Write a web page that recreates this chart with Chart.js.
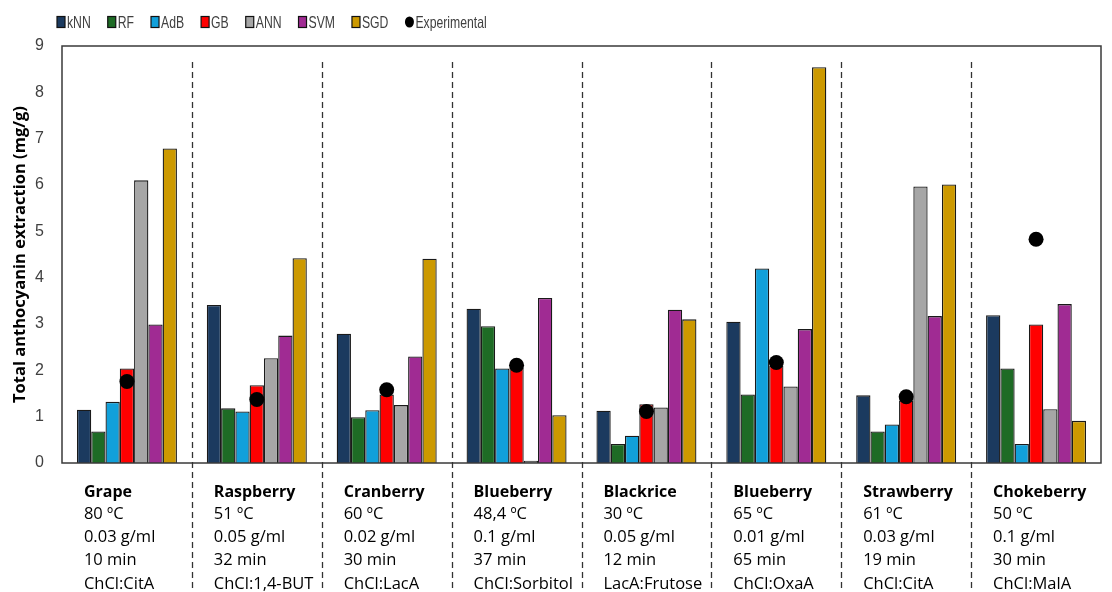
<!DOCTYPE html>
<html>
<head>
<meta charset="utf-8">
<script src="https://cdn.jsdelivr.net/npm/chart.js@4.4.1/dist/chart.umd.min.js"></script>
<style>
  html, body { margin: 0; padding: 0; background: #fff; }
  #wrap { width: 1112px; height: 592px; position: relative; }
</style>
</head>
<body>
<div id="wrap"><canvas id="c"></canvas></div>
<script>
// Matrices, with the extraction conditions printed under each group
const categories = ['Grape', 'Raspberry', 'Cranberry', 'Blueberry', 'Blackrice', 'Blueberry', 'Strawberry', 'Chokeberry'];
const conditions = [
  ['80 ºC', '0.03 g/ml', '10 min', 'ChCl:CitA'],
  ['51 ºC', '0.05 g/ml', '32 min', 'ChCl:1,4-BUT'],
  ['60 ºC', '0.02 g/ml', '30 min', 'ChCl:LacA'],
  ['48,4 ºC', '0.1 g/ml', '37 min', 'ChCl:Sorbitol'],
  ['30 ºC', '0.05 g/ml', '12 min', 'LacA:Frutose'],
  ['65 ºC', '0.01 g/ml', '65 min', 'ChCl:OxaA'],
  ['61 ºC', '0.03 g/ml', '19 min', 'ChCl:CitA'],
  ['50 ºC', '0.1 g/ml', '30 min', 'ChCl:MalA']
];

// Predicted total anthocyanin extraction (mg/g) per model
const kNN = [1.15, 3.41, 2.79, 3.33, 1.13, 3.05, 1.46, 3.19];
const RF  = [0.68, 1.18, 0.99, 2.95, 0.41, 1.48, 0.68, 2.04];
const AdB = [1.32, 1.11, 1.14, 2.04, 0.59, 4.20, 0.83, 0.41];
const GB  = [2.04, 1.68, 1.48, 2.05, 1.27, 2.10, 1.35, 2.99];
const ANN = [6.10, 2.26, 1.25, 0.05, 1.20, 1.65, 5.97, 1.16];
const SVM = [2.99, 2.75, 2.30, 3.56, 3.31, 2.89, 3.17, 3.43];
const SGD = [6.79, 4.42, 4.41, 1.03, 3.10, 8.54, 6.01, 0.91];
// Measured values
const experimental = [1.76, 1.37, 1.58, 2.11, 1.11, 2.17, 1.43, 4.83];

const yTicks = [0, 1, 2, 3, 4, 5, 6, 7, 8, 9];

const FONT = '"Open Sans", "Liberation Sans", sans-serif';
const KEY_FONT = '16.5px "Liberation Sans", Arial, sans-serif';
const KEY_SQUEEZE = 0.74;   // condensed look for the key labels

const barBorder = '#1a1a1a';
function barSet(label, data, color) {
  return {
    type: 'bar', label, data,
    backgroundColor: color, borderColor: barBorder, borderWidth: 1.3,
    categoryPercentage: 0.77, barPercentage: 1.0, order: 1
  };
}

// Boxed plot frame
const framePlugin = {
  id: 'frame',
  afterDatasetsDraw(chart) {
    const { ctx, chartArea: a } = chart;
    ctx.save();
    ctx.strokeStyle = '#3a3a3a';
    ctx.lineWidth = 1.5;
    ctx.strokeRect(a.left, a.top, a.right - a.left, a.bottom - a.top);
    ctx.restore();
  }
};

// Dashed dividers between matrix groups, running down through the condition text
const dividerPlugin = {
  id: 'dividers',
  afterDraw(chart) {
    const { ctx, chartArea: a } = chart;
    const xs = chart.scales.x;
    ctx.save();
    ctx.strokeStyle = '#333';
    ctx.lineWidth = 1.3;
    ctx.setLineDash([6, 4]);
    for (let i = 0; i < categories.length - 1; i++) {
      const px = Math.round((xs.getPixelForValue(i) + xs.getPixelForValue(i + 1)) / 2) + 0.5;
      ctx.beginPath();
      ctx.moveTo(px, a.top + 16);
      ctx.lineTo(px, chart.height);
      ctx.stroke();
    }
    ctx.restore();
  }
};

// Series key along the top-left
const keyPlugin = {
  id: 'seriesKey',
  afterDraw(chart) {
    const ctx = chart.ctx;
    ctx.save();
    ctx.font = KEY_FONT;
    ctx.textBaseline = 'middle';
    ctx.textAlign = 'left';
    let x = 57;
    const y = 22;
    chart.data.datasets.forEach(ds => {
      if (ds.type === 'bar') {
        ctx.fillStyle = ds.backgroundColor;
        ctx.fillRect(x, y - 5.5, 8, 11);
        ctx.strokeStyle = '#111';
        ctx.lineWidth = 1.2;
        ctx.strokeRect(x, y - 5.5, 8, 11);
      } else {
        ctx.fillStyle = '#000';
        ctx.beginPath();
        ctx.ellipse(x + 4, y, 4.5, 5.5, 0, 0, Math.PI * 2);
        ctx.fill();
      }
      x += 10;
      ctx.fillStyle = '#404040';
      ctx.save();
      ctx.translate(x, y + 1);
      ctx.scale(KEY_SQUEEZE, 1);
      ctx.fillText(ds.label, 0, 0);
      ctx.restore();
      x += ctx.measureText(ds.label).width * KEY_SQUEEZE + 17;
    });
    ctx.restore();
  }
};

new Chart(document.getElementById('c'), {
  type: 'bar',
  data: {
    labels: categories,
    datasets: [
      barSet('kNN', kNN, '#1b3a5f'),
      barSet('RF', RF, '#1e6b25'),
      barSet('AdB', AdB, '#11a0da'),
      barSet('GB', GB, '#ff0000'),
      barSet('ANN', ANN, '#a6a6a6'),
      barSet('SVM', SVM, '#a02b93'),
      barSet('SGD', SGD, '#cc9900'),
      {
        type: 'line', label: 'Experimental', data: experimental,
        showLine: false, pointRadius: 7.5, pointHoverRadius: 7.5,
        pointBackgroundColor: '#000', pointBorderWidth: 0, borderColor: '#000',
        order: 0
      }
    ]
  },
  options: {
    responsive: true,
    maintainAspectRatio: false,
    animation: false,
    layout: { padding: { top: 46, right: 11, bottom: 0, left: 0 } },
    plugins: { legend: { display: false }, tooltip: { enabled: false } },
    scales: {
      x: {
        type: 'category',
        offset: true,
        weight: 0,
        grid: { display: false, drawTicks: false },
        border: { display: false },
        ticks: {
          align: 'start', labelOffset: -43, padding: 20,
          autoSkip: false, maxRotation: 0, minRotation: 0,
          color: '#000', font: { family: FONT, size: 16, weight: 'bold' }
        },
        afterFit(s) { s.height = 38; s.paddingLeft = 0; s.paddingRight = 0; }
      },
      x2: {
        type: 'category',
        position: 'bottom',
        labels: conditions,
        offset: true,
        weight: 1,
        grid: { display: false, drawTicks: false },
        border: { display: false },
        ticks: {
          align: 'start', labelOffset: -43, padding: 2,
          autoSkip: false, maxRotation: 0, minRotation: 0,
          color: '#000', font: { family: FONT, size: 16.5, lineHeight: 1.4 }
        },
        afterFit(s) { s.height = 91; s.paddingLeft = 0; s.paddingRight = 0; }
      },
      y: {
        min: yTicks[0],
        max: yTicks[yTicks.length - 1],
        afterBuildTicks(s) { s.ticks = yTicks.map(v => ({ value: v })); },
        grid: { display: false, drawTicks: false },
        border: { display: false },
        ticks: { padding: 18, color: '#404040', font: { family: '"Liberation Sans", Arial, sans-serif', size: 16 } },
        title: {
          display: true,
          text: 'Total anthocyanin extraction (mg/g)',
          color: '#000',
          font: { family: FONT, size: 16.5, weight: 'bold' },
          padding: { top: 10, bottom: 0 }
        },
        afterFit(s) { s.width = 62; }
      }
    }
  },
  plugins: [framePlugin, dividerPlugin, keyPlugin]
});
</script>
</body>
</html>
